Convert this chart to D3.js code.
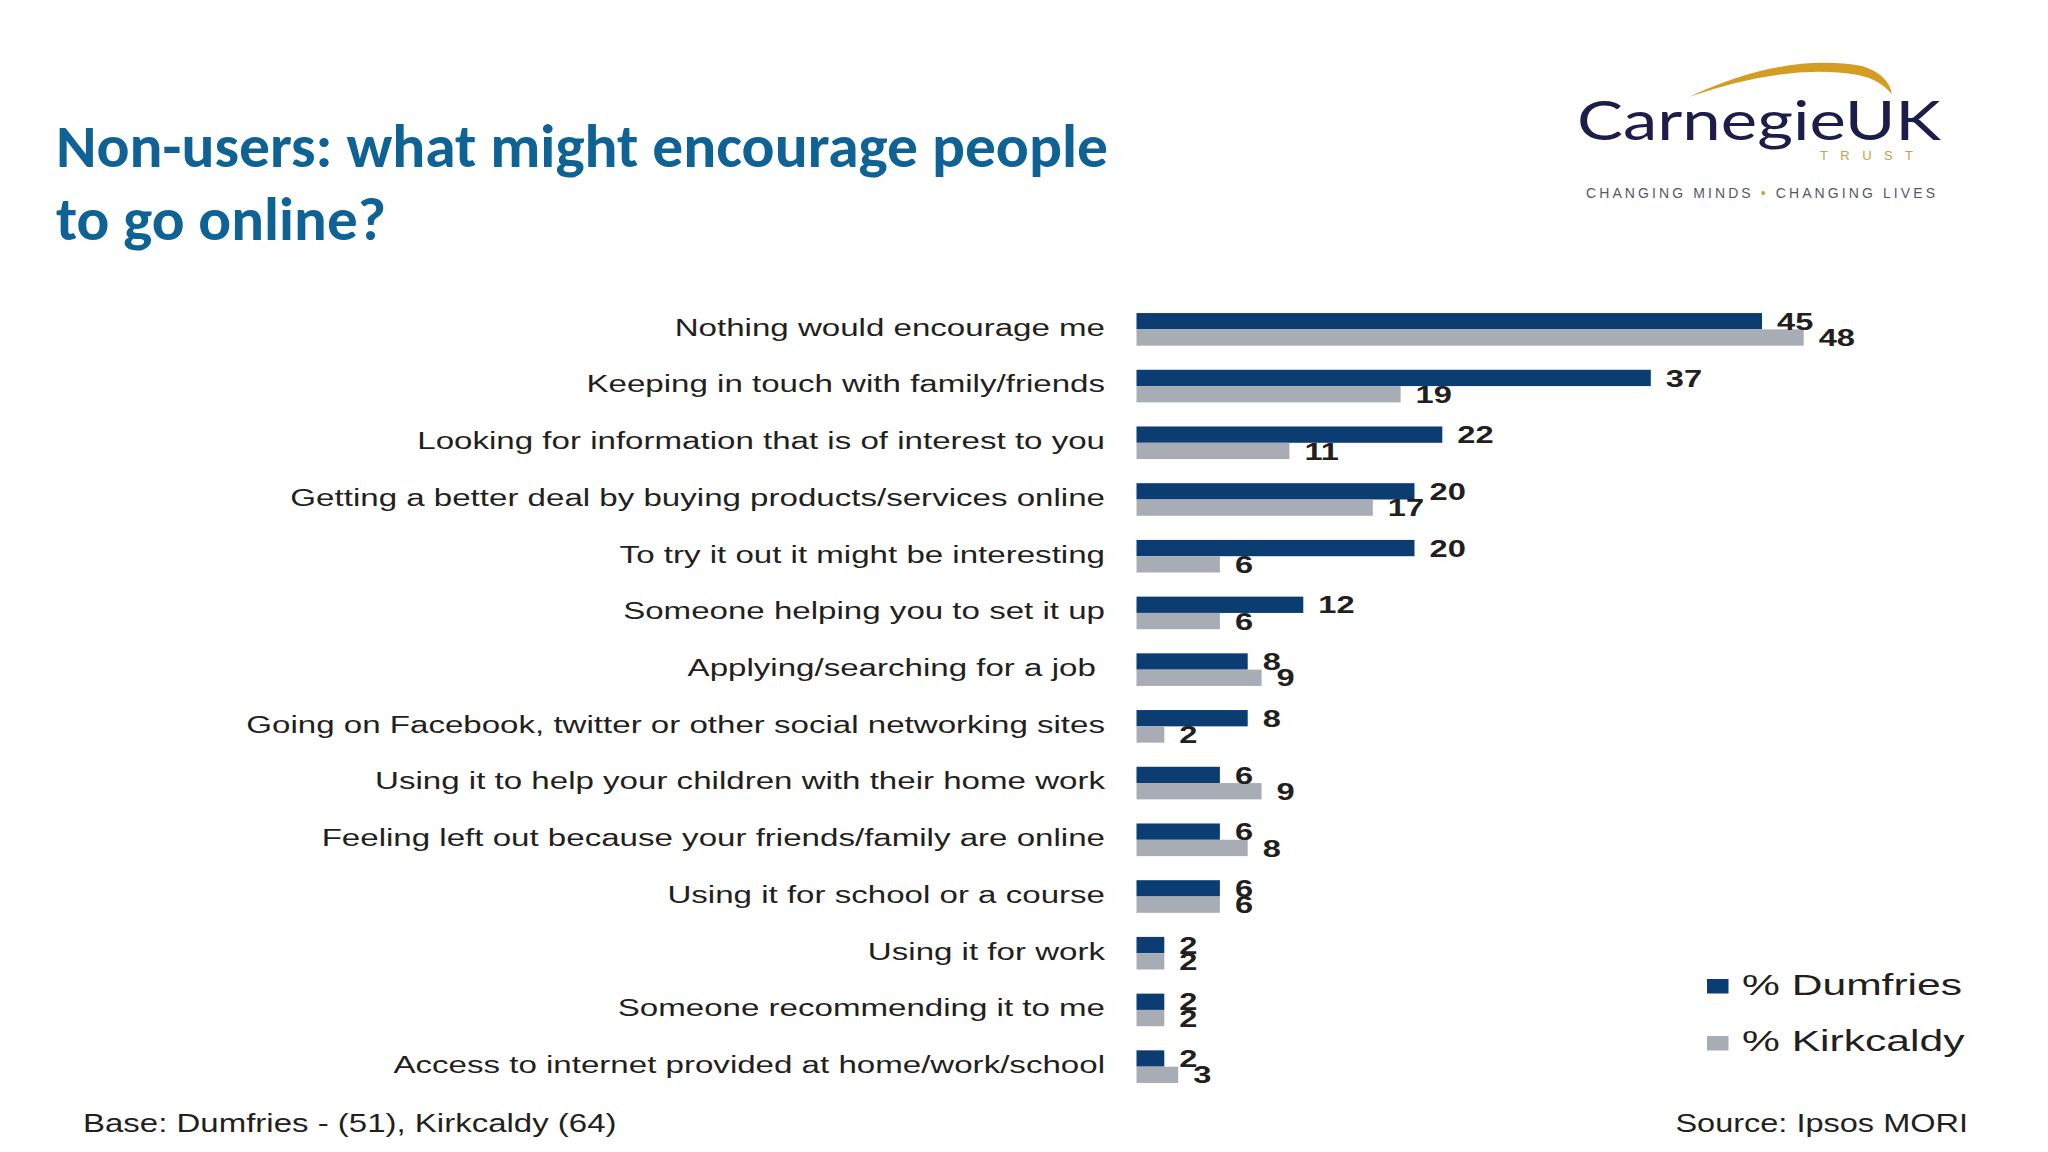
<!DOCTYPE html>
<html>
<head>
<meta charset="utf-8">
<script src="https://cdn.jsdelivr.net/npm/d3@7/dist/d3.min.js"></script>
<style>
  body { margin: 0; background: #fff; }
  svg { display: block; }
</style>
</head>
<body>
<div id="chart"></div>
<script>
const categories = [
  "Nothing would encourage me",
  "Keeping in touch with family/friends",
  "Looking for information that is of interest to you",
  "Getting a better deal by buying products/services online",
  "To try it out it might be interesting",
  "Someone helping you to set it up",
  "Applying/searching for a job ",
  "Going on Facebook, twitter or other social networking sites",
  "Using it to help your children with their home work",
  "Feeling left out because your friends/family are online",
  "Using it for school or a course",
  "Using it for work",
  "Someone recommending it to me",
  "Access to internet provided at home/work/school",
];
const dumfries = [45, 37, 22, 20, 20, 12, 8, 8, 6, 6, 6, 2, 2, 2];
const kirkcaldy = [48, 19, 11, 17, 6, 6, 9, 2, 9, 8, 6, 2, 2, 3];
const seriesNames = ["% Dumfries", "% Kirkcaldy"];
const colors = ["#0b3d73", "#a8adb5"];

const W = 2048;
const H = 1152;
const margin = { top: 301, left: 1136.5 };
const innerWidth = 695;
const innerHeight = 794;

const textColor = "#231f20";
const labelStretch = 1.42;
const valueStretch = 1.36;

const svg = d3
  .select("#chart")
  .append("svg")
  .attr("width", W)
  .attr("height", H);

svg.append("rect").attr("width", W).attr("height", H).attr("fill", "#fff");

// title
const title = svg
  .append("g")
  .attr("fill", "#0e6294")
  .attr("font-family", "Carlito, Lato, 'Open Sans', sans-serif")
  .attr("font-weight", 700)
  .attr("font-size", 60);
[
  ["Non-users: what might encourage people", 167, 1052],
  ["to go online?", 240, 330],
].forEach(([t, y, len]) => {
  title
    .append("text")
    .attr("x", 56)
    .attr("y", y)
    .attr("textLength", len)
    .attr("lengthAdjust", "spacingAndGlyphs")
    .text(t);
});

// logo
const logo = svg.append("g");
logo
  .append("path")
  .attr("d", "M1689,97 Q1785,52 1862,66 Q1888,74 1892,94 Q1879,79 1858,75 Q1785,63 1689,97 Z")
  .attr("fill", "#d49c22");
logo
  .append("text")
  .attr("x", 1577)
  .attr("y", 140)
  .attr("font-family", "Lato, 'Open Sans', sans-serif")
  .attr("font-size", 54)
  .attr("fill", "#1d1d4a")
  .attr("textLength", 364)
  .attr("lengthAdjust", "spacingAndGlyphs")
  .text("CarnegieUK");
logo
  .append("text")
  .attr("x", 1820)
  .attr("y", 160)
  .attr("font-family", "'Liberation Sans', Arial, sans-serif")
  .attr("font-size", 13)
  .attr("fill", "#c8a047")
  .attr("textLength", 93)
  .attr("lengthAdjust", "spacing")
  .text("TRUST");
const tag = logo
  .append("text")
  .attr("x", 1586)
  .attr("y", 198)
  .attr("font-family", "'Liberation Sans', Arial, sans-serif")
  .attr("font-size", 14)
  .attr("fill", "#555a60")
  .attr("textLength", 349)
  .attr("lengthAdjust", "spacing");
tag.append("tspan").text("CHANGING MINDS ");
tag.append("tspan").attr("fill", "#c9a04a").text("•");
tag.append("tspan").text(" CHANGING LIVES");

// scales
const xScale = d3.scaleLinear().domain([0, 50]).range([0, innerWidth]);
const yScale = d3
  .scaleBand()
  .domain(categories)
  .range([0, innerHeight])
  .paddingInner(0.425)
  .paddingOuter(0.2125);
const subScale = d3
  .scaleBand()
  .domain(seriesNames)
  .range([0, yScale.bandwidth()]);

const rows = categories.map((c, i) => ({
  category: c,
  values: [
    { series: seriesNames[0], value: dumfries[i] },
    { series: seriesNames[1], value: kirkcaldy[i] },
  ],
}));

const chart = svg
  .append("g")
  .attr("transform", `translate(${margin.left}, ${margin.top})`);

const group = chart
  .selectAll(".row")
  .data(rows)
  .enter()
  .append("g")
  .attr("class", "row")
  .attr("transform", (d) => `translate(0, ${yScale(d.category)})`);

group
  .selectAll("rect")
  .data((d) => d.values)
  .enter()
  .append("rect")
  .attr("x", 0)
  .attr("y", (d) => subScale(d.series))
  .attr("width", (d) => xScale(d.value))
  .attr("height", subScale.bandwidth())
  .attr("fill", (d, i) => colors[i]);

group
  .selectAll(".value")
  .data((d) => d.values)
  .enter()
  .append("text")
  .attr("class", "value")
  .attr(
    "transform",
    (d) =>
      `translate(${xScale(d.value) + 15}, ${subScale(d.series) + subScale.bandwidth() / 2}) scale(${valueStretch}, 1)`
  )
  .attr("dy", "0.36em")
  .attr("font-family", "'Liberation Sans', Arial, sans-serif")
  .attr("font-weight", "bold")
  .attr("font-size", 24)
  .attr("fill", textColor)
  .text((d) => d.value);

// category labels
chart
  .selectAll(".cat")
  .data(categories)
  .enter()
  .append("text")
  .attr("class", "cat")
  .attr(
    "transform",
    (d) =>
      `translate(${-31.5}, ${yScale(d) + yScale.bandwidth() / 2 - 2}) scale(${labelStretch}, 1)`
  )
  .attr("dy", "0.36em")
  .attr("text-anchor", "end")
  .style("white-space", "pre")
  .attr("font-family", "'Liberation Sans', Arial, sans-serif")
  .attr("font-size", 23.3)
  .attr("fill", textColor)
  .text((d) => d);

// legend
const legend = svg.append("g").attr("transform", "translate(1707, 979)");
legend
  .selectAll("rect")
  .data(seriesNames)
  .enter()
  .append("rect")
  .attr("x", 0)
  .attr("y", (d, i) => i * 57)
  .attr("width", 21.5)
  .attr("height", 14.5)
  .attr("fill", (d, i) => colors[i]);
legend
  .selectAll("text")
  .data(seriesNames)
  .enter()
  .append("text")
  .attr("transform", (d, i) => `translate(35, ${16 + i * 56}) scale(1.42, 1)`)
  .attr("font-family", "'Liberation Sans', Arial, sans-serif")
  .attr("font-size", 30)
  .attr("fill", textColor)
  .text((d) => d);

// footer
svg
  .append("text")
  .attr("transform", "translate(83, 1132) scale(1.32, 1)")
  .attr("font-family", "'Liberation Sans', Arial, sans-serif")
  .attr("font-size", 25)
  .attr("fill", textColor)
  .text("Base: Dumfries - (51), Kirkcaldy (64)");

svg
  .append("text")
  .attr("transform", "translate(1968, 1132) scale(1.27, 1)")
  .attr("text-anchor", "end")
  .attr("font-family", "'Liberation Sans', Arial, sans-serif")
  .attr("font-size", 25.6)
  .attr("fill", textColor)
  .text("Source: Ipsos MORI");
</script>
</body>
</html>
